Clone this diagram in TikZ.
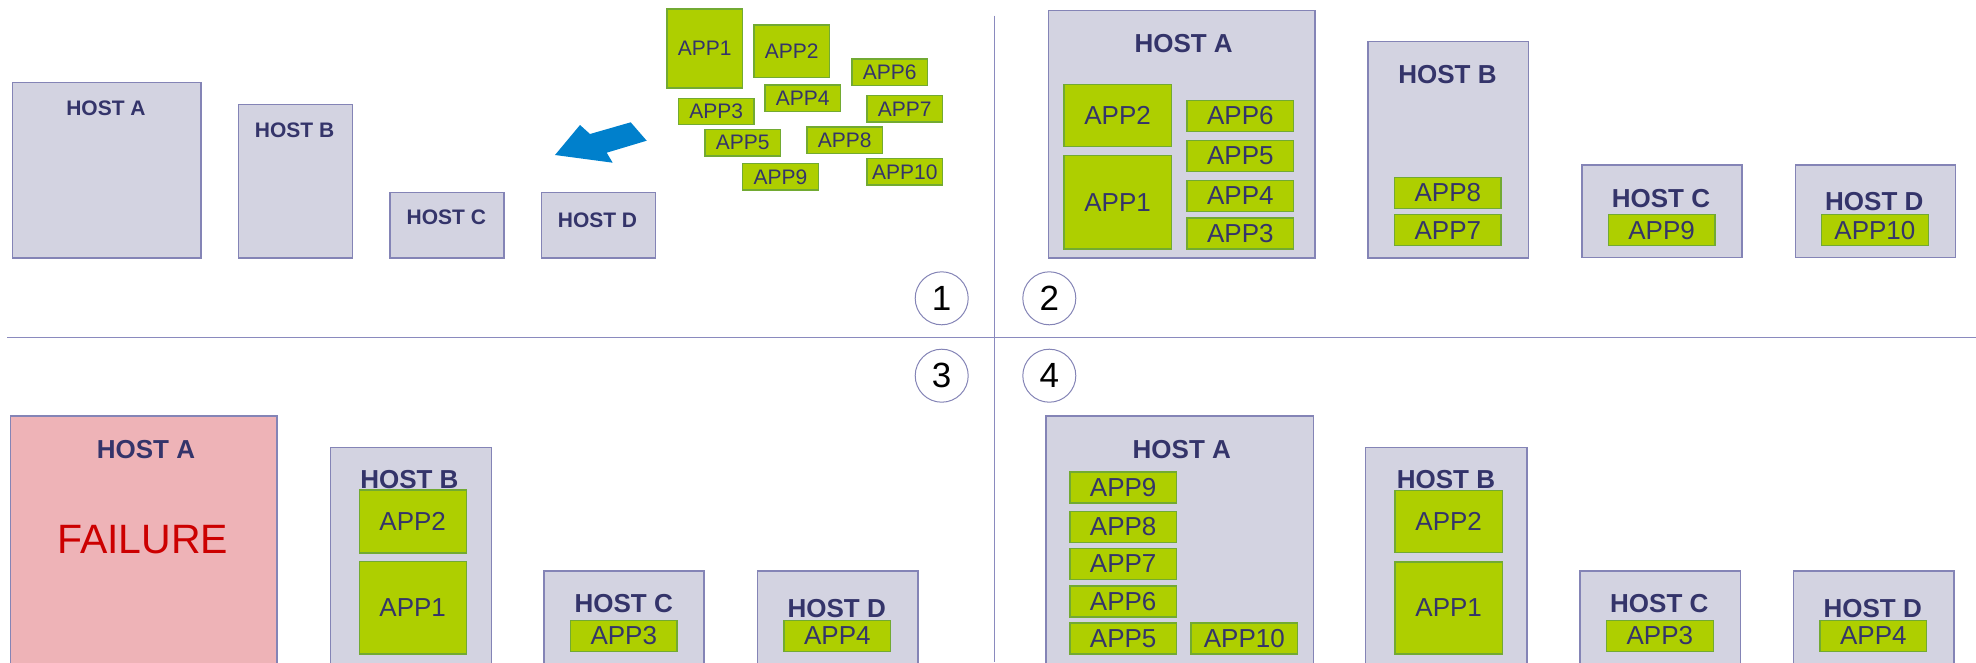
\documentclass[tikz,border=0pt]{standalone}
\usepackage{fontspec}
\setmainfont{Liberation Sans}
\definecolor{hostfill}{HTML}{D3D3E1}
\definecolor{hostline}{HTML}{8484B6}
\definecolor{appfill}{HTML}{AECF00}
\definecolor{appline}{HTML}{72AA32}
\definecolor{navy}{HTML}{34346A}
\definecolor{failfill}{HTML}{EEB3B7}
\definecolor{failtext}{HTML}{CC0000}
\definecolor{arrowblue}{HTML}{0080CC}
\definecolor{rule}{HTML}{8A8ABE}
\newcommand{\fs}[1]{\fontsize{#1}{#1}\selectfont}
\begin{document}
\begin{tikzpicture}[x=1pt,y=-1pt,
  host/.style={draw=hostline, fill=hostfill, line width=1.4pt, inner sep=0pt, anchor=north west},
  fail/.style={host, fill=failfill},
  hostlabel/.style={text=navy, font=\fs{#1}\bfseries, inner sep=0pt},
  hostlabel/.default=26,
  app/.style={draw=appline, fill=appfill, line width=1.3pt, inner sep=0pt, anchor=north west, text=navy, font=\fs{26}},
  sapp/.style={app, minimum width=75.7pt, minimum height=26.3pt, font=\fs{21}},
  mapp/.style={app, minimum width=106.5pt, minimum height=31pt},
  stepnum/.style={circle, draw=hostline, line width=1pt, minimum size=53pt, inner sep=0pt, font=\fs{35}},
  divider/.style={draw=rule, line width=1.3pt}]
\useasboundingbox (0,0) rectangle (1976,662);
\clip (0,0) rectangle (1976,662);

% ---------- dividers and step numbers ----------
\coordinate (vtop) at (994.3,15.7);
\coordinate (vbot) at (994.3,662);
\coordinate (hl) at (7,337.7);
\coordinate (hr) at (1976,337.7);
\draw[divider] (vtop) -- (vbot);
\draw[divider] (hl) -- (hr);
\node[stepnum] (s1) at (941.7,298.3) {1};
\node[stepnum] (s2) at (1049.3,298.3) {2};
\node[stepnum] (s3) at (941.7,375.7) {3};
\node[stepnum] (s4) at (1049.3,375.7) {4};

% ---------- step 1: empty hosts, applications waiting ----------
\node[host, minimum width=188.8pt, minimum height=175.3pt] (p1a) at (11.6,82) {};
\node[host, minimum width=114.3pt, minimum height=153.3pt] (p1b) at (237.5,104) {};
\node[host, minimum width=113.8pt, minimum height=65.6pt] (p1c) at (389.3,191.7) {};
\node[host, minimum width=113.9pt, minimum height=65.6pt] (p1d) at (540.6,191.7) {};
\node[hostlabel=21] (p1aL) at (106,108.7) {HOST A};
\node[hostlabel=21] (p1bL) at (294.6,130.7) {HOST B};
\node[hostlabel=21] (p1cL) at (446.4,217.7) {HOST C};
\node[hostlabel=21] (p1dL) at (597.5,220.7) {HOST D};

\node[sapp, minimum height=79pt] (p1app1) at (666.3,8.3) {APP1};
\node[sapp, minimum height=52.4pt] (p1app2) at (753.3,24.3) {APP2};
\node[sapp] (p1app6) at (851.3,58.3) {APP6};
\node[sapp] (p1app3) at (677.7,97.7) {APP3};
\node[sapp] (p1app4) at (764.3,84.3) {APP4};
\node[sapp] (p1app7) at (866.3,95) {APP7};
\node[sapp] (p1app5) at (704.3,129) {APP5};
\node[sapp] (p1app8) at (806.3,126.3) {APP8};
\node[sapp] (p1app9) at (742,163) {APP9};
\node[sapp] (p1app10) at (866.3,158) {APP10};

% block arrow pointing at the hosts
\fill[arrowblue] (555,155) -- (580,125) -- (590,134) -- (630.7,122.3)
  -- (646.7,140.7) -- (606.7,152.7) -- (612.7,162.7) -- cycle;

% ---------- step 2: applications placed ----------
\node[host, minimum width=266.8pt, minimum height=247.3pt] (p2a) at (1047.5,10) {};
\node[host, minimum width=160.8pt, minimum height=216.6pt] (p2b) at (1367.1,40.7) {};
\node[host, minimum width=160pt, minimum height=92.7pt] (p2c) at (1581.3,164.3) {};
\node[host, minimum width=160.3pt, minimum height=92.7pt] (p2d) at (1794.7,164.3) {};
\node[hostlabel] (p2aL) at (1183.6,44) {HOST A};
\node[hostlabel] (p2bL) at (1447.5,74.3) {HOST B};
\node[hostlabel] (p2cL) at (1661,199) {HOST C};
\node[hostlabel] (p2dL) at (1874.3,201.7) {HOST D};

\node[app, minimum width=107.5pt, minimum height=62pt] (p2app2) at (1063.2,84) {APP2};
\node[app, minimum width=107.5pt, minimum height=93.3pt] (p2app1) at (1063.2,155) {APP1};
\node[mapp] (p2app6) at (1186.4,99.5) {APP6};
\node[mapp] (p2app5) at (1186.4,139.5) {APP5};
\node[mapp] (p2app4) at (1186.4,179.5) {APP4};
\node[mapp] (p2app3) at (1186.4,217.3) {APP3};
\node[mapp] (p2app8) at (1393.9,176.7) {APP8};
\node[mapp] (p2app7) at (1393.9,214) {APP7};
\node[mapp] (p2app9) at (1607.7,214) {APP9};
\node[mapp] (p2app10) at (1821,214) {APP10};

% ---------- step 3: host A fails ----------
\node[fail, minimum width=266.5pt, minimum height=300pt] (p3a) at (9.8,415.3) {};
\node[host, minimum width=161.1pt, minimum height=280pt] (p3b) at (329.5,446.7) {};
\node[host, minimum width=160pt, minimum height=150pt] (p3c) at (543.3,570.3) {};
\node[host, minimum width=160.3pt, minimum height=150pt] (p3d) at (757,570.3) {};
\node[hostlabel] (p3aL) at (146,450) {HOST A};
\node[text=failtext, font=\fs{41}, inner sep=0pt] (p3fail) at (142.9,540) {FAILURE};
\node[hostlabel] (p3bL) at (409.4,480) {HOST B};
\node[hostlabel] (p3cL) at (623.7,603.3) {HOST C};
\node[hostlabel] (p3dL) at (836.7,608.3) {HOST D};

\node[app, minimum width=107.1pt, minimum height=63pt] (p3app2) at (358.5,489.3) {APP2};
\node[app, minimum width=107.1pt, minimum height=92.3pt] (p3app1) at (358.5,561) {APP1};
\node[mapp, minimum width=106.3pt] (p3app3) at (570,619.7) {APP3};
\node[mapp, minimum width=106.7pt] (p3app4) at (783.3,619.7) {APP4};

% ---------- step 4: applications moved to host A ----------
\node[host, minimum width=267.1pt, minimum height=300pt] (p4a) at (1045.4,415.3) {};
\node[host, minimum width=161.4pt, minimum height=280pt] (p4b) at (1365,446.7) {};
\node[host, minimum width=160.4pt, minimum height=150pt] (p4c) at (1579.3,570.3) {};
\node[host, minimum width=160.6pt, minimum height=150pt] (p4d) at (1792.7,570.3) {};
\node[hostlabel] (p4aL) at (1181.8,450) {HOST A};
\node[hostlabel] (p4bL) at (1446,480) {HOST B};
\node[hostlabel] (p4cL) at (1659.3,604) {HOST C};
\node[hostlabel] (p4dL) at (1872.7,608.3) {HOST D};

\node[mapp] (p4app9) at (1069.3,471.3) {APP9};
\node[mapp] (p4app8) at (1069.3,510.7) {APP8};
\node[mapp] (p4app7) at (1069.3,547.7) {APP7};
\node[mapp] (p4app6) at (1069.3,585.3) {APP6};
\node[mapp] (p4app5) at (1069.3,622.3) {APP5};
\node[mapp] (p4app10) at (1190.4,622.3) {APP10};
\node[app, minimum width=107.5pt, minimum height=61.7pt] (p4app2) at (1394.3,490) {APP2};
\node[app, minimum width=107.5pt, minimum height=92pt] (p4app1) at (1394.3,561.3) {APP1};
\node[mapp, minimum width=107pt] (p4app3) at (1605.7,619.7) {APP3};
\node[mapp, minimum width=106.7pt] (p4app4) at (1819.3,619.7) {APP4};
\end{tikzpicture}
\end{document}
